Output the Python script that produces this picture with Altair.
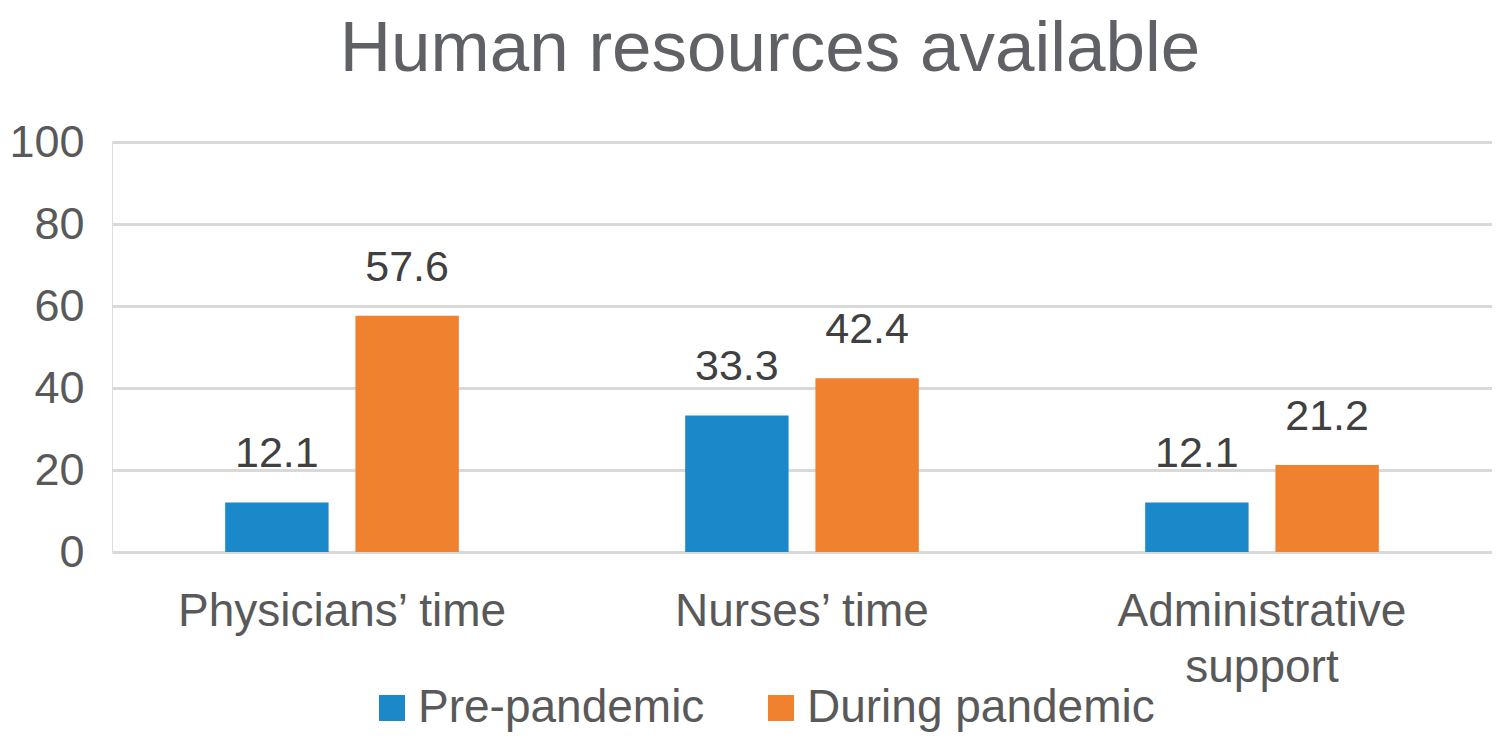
import altair as alt
import pandas as pd

categories = ["Physicians’ time", "Nurses’ time", "Administrative support"]
series = ["Pre-pandemic", "During pandemic"]
pre_values = [12.1, 33.3, 12.1]
during_values = [57.6, 42.4, 21.2]
colors = ["#1a88c9", "#f0812f"]
y_ticks = [0, 20, 40, 60, 80, 100]

rows = []
for c, a, b in zip(categories, pre_values, during_values):
    rows.append({"category": c, "series": series[0], "value": a})
    rows.append({"category": c, "series": series[1], "value": b})
df = pd.DataFrame(rows)
df["label"] = df["value"].map(lambda v: f"{v:.1f}")

FONT = "Liberation Sans"
AXIS_COLOR = "#595959"

x = alt.X(
    "category:N", sort=categories, title=None,
    scale=alt.Scale(paddingInner=0, paddingOuter=0),
    axis=alt.Axis(
        labelAngle=0, labelFontSize=46, labelColor=AXIS_COLOR, labelFont=FONT,
        labelPadding=37, ticks=False, domain=False, grid=False,
        labelExpr="datum.label == 'Administrative support' ? ['Administrative', 'support'] : datum.label",
        labelLineHeight=56, labelBaseline="top", labelLimit=0,
    ),
)
xo = alt.XOffset("series:N", sort=series,
                 scale=alt.Scale(paddingInner=0.206, paddingOuter=0.869))
y = alt.Y(
    "value:Q", title=None, scale=alt.Scale(domain=[0, 100]),
    axis=alt.Axis(
        values=y_ticks, labelFontSize=45, labelColor=AXIS_COLOR, labelFont=FONT,
        gridColor="#d9d9d9", gridWidth=3, domain=False, ticks=False,
        labelPadding=28,
    ),
)
color = alt.Color(
    "series:N", sort=series,
    scale=alt.Scale(domain=series, range=colors),
    legend=alt.Legend(
        title=None, orient="none", legendX=257, legendY=543,
        direction="horizontal", symbolType="square", symbolSize=676,
        symbolStrokeWidth=0, labelFontSize=46, labelColor=AXIS_COLOR,
        labelFont=FONT, labelOffset=3, columnPadding=53, padding=0,
        labelLimit=0,
    ),
)

base = alt.Chart(df)
bars = base.mark_bar().encode(x=x, xOffset=xo, y=y, color=color)
text = base.mark_text(
    font=FONT, fontSize=43, color="#404040", baseline="alphabetic", dy=-35
).encode(x=x, xOffset=xo, y=y, text="label:N")

chart = (
    alt.layer(bars, text)
    .properties(
        width=1380, height=410,
        autosize=alt.AutoSizeParams(type="none"),
        padding={"left": 104, "top": 134, "right": 0, "bottom": 182},
        title=alt.TitleParams(
            text="Human resources available", fontSize=71, font=FONT,
            color="#5f6166", fontWeight="normal", anchor="middle",
            frame="group", offset=34, dx=-32,
        ),
    )
    .configure_view(stroke=None)
    .configure(background="white")
)

chart.save("out.html", embed_options={"renderer": "svg", "actions": False})
